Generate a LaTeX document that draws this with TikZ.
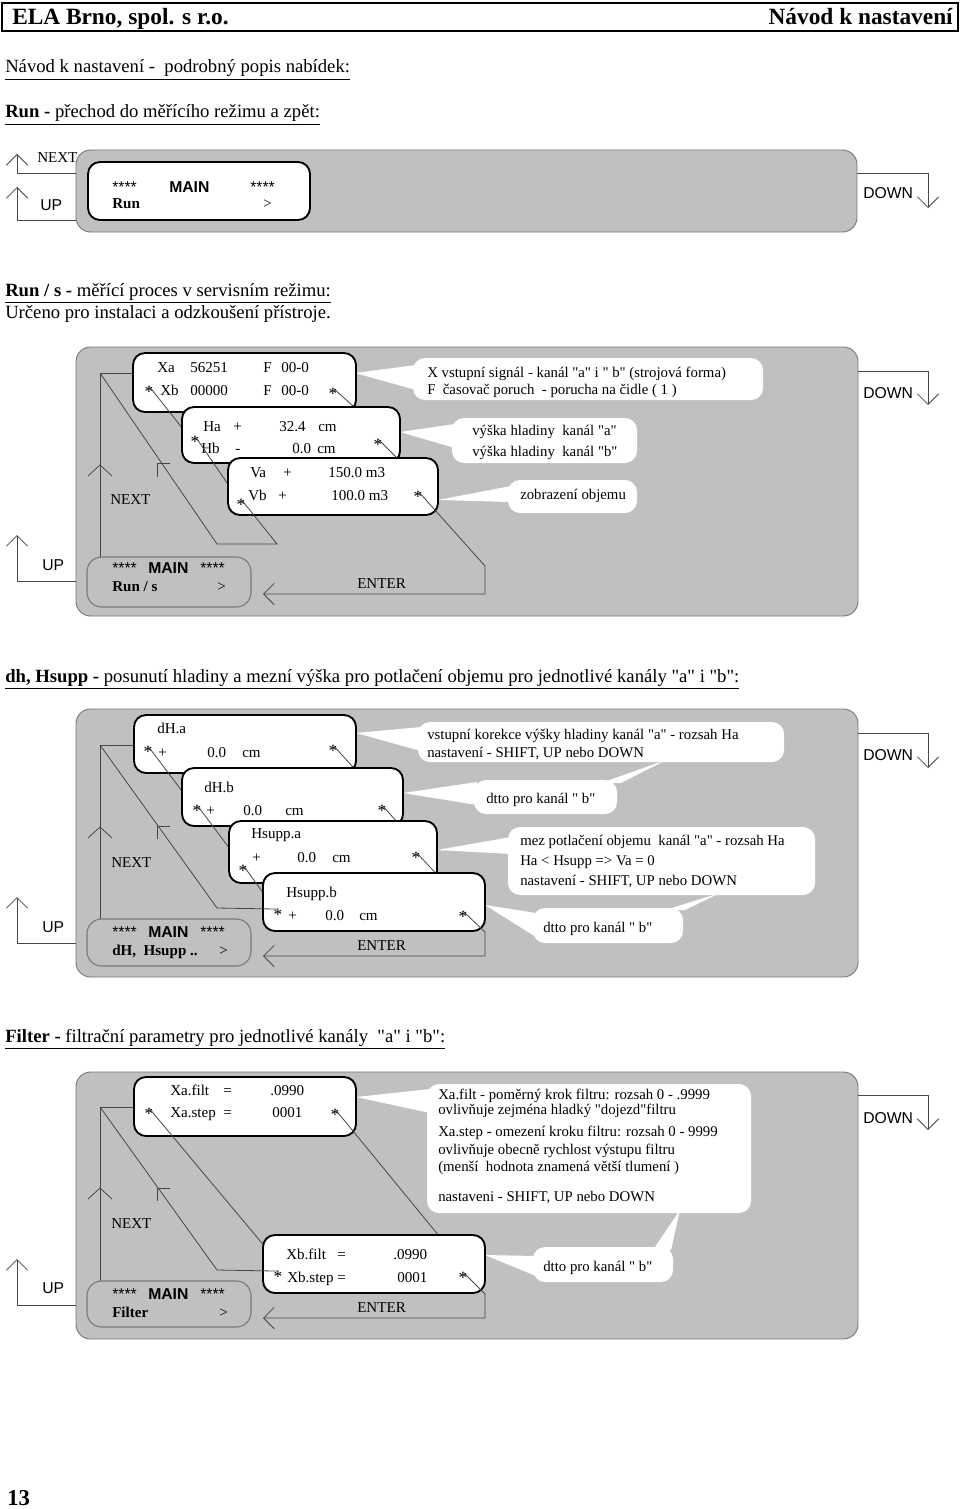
\documentclass[tikz,border=0pt]{standalone}
\usepackage{fontspec}
\setmainfont{Liberation Serif}[Ligatures=TeXOff]
\newfontfamily\arialfont{Liberation Sans}[Ligatures=TeXOff]
\usetikzlibrary{fit,arrows.meta}
\definecolor{panelgray}{RGB}{192,192,192}
\definecolor{panelline}{RGB}{120,120,120}
\definecolor{wirecol}{RGB}{70,70,70}
\newcommand\fDisp{\fontsize{11.3}{13}\selectfont}
\newcommand\fStar{\fontsize{13}{13}\selectfont}
\newcommand\fSans{\arialfont\fontsize{11.8}{14}\selectfont}
\newcommand\fCall{\fontsize{11.1}{13}\selectfont}
\newcommand\fHead{\fontsize{14}{16}\selectfont}
\tikzset{
 panel/.style={fill=panelgray, draw=panelline, line width=0.7pt, rounded corners=11pt, inner sep=0pt},
 disp/.style={fill=white, draw=black, line width=1.4pt, rounded corners=9pt, inner sep=0pt},
 mainbox/.style={fill=panelgray, draw=panelline, line width=0.8pt, rounded corners=11pt, inner sep=0pt},
 callout/.style={fill=white, rounded corners=9pt, inner sep=0pt},
 wire/.style={draw=wirecol, line width=0.6pt},
 barb/.style={-{Straight Barb[length=8pt,width=16pt]}},
 tx/.style={anchor=base west, inner sep=0pt, font=\fDisp},
 sx/.style={anchor=base west, inner sep=0pt, font=\fSans},
 cx/.style={anchor=base west, inner sep=0pt, font=\fCall},
 hx/.style={anchor=base west, inner sep=0pt, font=\fHead},
 star/.style={inner sep=0pt, font=\fStar, yshift=-4.5pt},
}
\begin{document}
\begin{tikzpicture}[x=0.75pt,y=-0.75pt]
\useasboundingbox (0,0) rectangle (960,1509);
% ---------- header ----------
\draw[line width=1.2pt] (2,3) rectangle (958,31);
\draw[line width=2pt] (2,3) -- (2,31) (958,3) -- (958,31);
\node[anchor=base west, inner sep=0pt, font=\fontsize{17.5}{20}\selectfont\bfseries] (hl) at (12,25) {ELA Brno, spol. s r.o.};
\node[anchor=base east, inner sep=0pt, font=\fontsize{17.5}{20}\selectfont\bfseries] (hr) at (953,25) {Návod k nastavení};
\node[hx] (t0) at (5,73) {\underline{Návod k nastavení -\ \ podrobný popis nabídek:}};
\node[hx] (t1) at (5,118) {\underline{\textbf{Run -} přechod do měřícího režimu a zpět:}};
% ---------- section 1 ----------
\node[panel, fit={(76,150) (857,232)}] (p1) {};
\node[disp, fit={(88,162) (310,220)}] (m1) {};
\node[sx] (m1a) at (112,192) {****};
\node[sx, font=\fSans\bfseries] (m1b) at (169,192) {MAIN};
\node[sx] (m1c) at (250,192) {****};
\node[tx] (m1d) at (112,209) {\textbf{Run}};
\node[tx] (m1e) at (263,209) {>};
\node[tx] (nx1) at (37,162) {NEXT};
\node[sx] (up1) at (40,210) {UP};
\node[sx] (dn1) at (863,198) {DOWN};
\draw[wire,barb] (76,173) -- (17,173) -- (17,154);
\draw[wire,barb] (76,220) -- (17,220) -- (17,187);
\draw[wire,barb] (857,173) -- (928,173) -- (928,208);
% ---------- section 2 ----------
\node[hx] (t2) at (5,296) {\underline{\textbf{Run / s -} měřící proces v servisním režimu:}};
\node[hx] (t3) at (5,318) {Určeno pro instalaci a odzkoušení přístroje.};
\node[panel, fit={(76,347) (858,616)}] (p2) {};
\node[sx] (dn2) at (863,398) {DOWN};
\draw[wire,barb] (858,371) -- (928,371) -- (928,405);
% callouts
\fill[white] (355,373) -- (416,365) -- (416,390) -- cycle;
\fill[white] (400,432) -- (455,424) -- (455,448) -- cycle;
\fill[white] (438,500) -- (511,486) -- (511,502) -- cycle;
\node[callout, fit={(413,358) (763,400)}] (c21) {};
\node[callout, fit={(452,418) (637,463)}] (c22) {};
\node[callout, fit={(508,480) (637,513)}] (c23) {};
\node[cx] at (427,377) {X vstupní signál - kanál "a" i " b" (strojová forma)};
\node[cx] at (427,394) {F\ \ časovač poruch\ \ - porucha na čidle ( 1 )};
\node[cx] at (472,435) {výška hladiny\ \ kanál "a"};
\node[cx] at (472,456) {výška hladiny\ \ kanál "b"};
\node[cx] at (520,499) {zobrazení objemu};
% next / up / enter wiring
\draw[wire] (100,557) -- (100,373) -- (134,373);
\draw[wire] (88,476) -- (100,465) -- (112,476);
\draw[wire] (170,463) -- (157,463) -- (157,477);
\draw[wire,barb] (17,581) -- (17,535);
\draw[wire] (76,581) -- (17,581);
\node[tx] (nx2) at (110,504) {NEXT};
\node[sx] (up2) at (42,570) {UP};
\node[tx] (en2) at (357,588) {ENTER};
% Xa box
\node[disp, fit={(133,353) (356,412)}] (bxa) {};
\node[tx] at (157,372) {Xa}; \node[tx] at (190,372) {56251};
\node[tx] at (263,372) {F}; \node[tx] at (281,372) {00-0};
\node[tx] at (160,395) {Xb}; \node[tx] at (190,395) {00000};
\node[tx] at (263,395) {F}; \node[tx] at (281,395) {00-0};
\node[star] (s2l1) at (149,386) {*};
\node[star] (s2r1) at (333,388) {*};
\draw[wire] (s2l1.north) -- (190,438);
\draw[wire] (s2r1.north) -- (362,414);
% Ha box
\node[disp, fit={(182,407) (400,463)}] (bha) {};
\node[tx] at (203,431) {Ha}; \node[tx] at (233,431) {+};
\node[tx] at (279,431) {32.4}; \node[tx] at (318,431) {cm};
\node[tx] at (201,453) {Hb}; \node[tx] at (235,453) {-};
\node[tx] at (292,453) {0.0}; \node[tx] at (317,453) {cm};
\node[star] (s2l2) at (195,436) {*};
\node[star] (s2r2) at (378,439) {*};
\draw[wire] (s2l2.north) -- (236,496);
\draw[wire] (s2r2.north) -- (404,465);
% Va box
\node[disp, fit={(228,458) (438,515)}] (bva) {};
\node[tx] at (250,477) {Va}; \node[tx] at (283,477) {+};
\node[tx] at (328,477) {150.0 m3};
\node[tx] at (248,500) {Vb}; \node[tx] at (278,500) {+};
\node[tx] at (331,500) {100.0 m3};
\node[star] (s2l3) at (241,499) {*};
\node[star] (s2r3) at (418,491) {*};
\draw[wire] (s2l3.north) -- (277,544) -- (217,544) -- (100,373);
\draw[wire,barb] (s2r3.north) -- (485,566) -- (485,594) -- (263,594);
% main box
\node[mainbox, fit={(87,557) (251,607)}] (m2) {};
\node[sx] at (112,573) {****};
\node[sx, font=\fSans\bfseries] at (148,573) {MAIN};
\node[sx] at (200,573) {****};
\node[tx] at (112,591) {\textbf{Run / s}};
\node[tx] at (217,591) {>};
% ---------- section 3 ----------
\node[hx] (t4) at (5,682) {\underline{\textbf{dh, Hsupp -} posunutí hladiny a mezní výška pro potlačení objemu pro jednotlivé kanály "a" i "b":}};
\node[panel, fit={(76,709) (858,977)}] (p3) {};
\node[sx] (dn3) at (863,760) {DOWN};
\draw[wire,barb] (858,733) -- (928,733) -- (928,768);
\fill[white] (356,733) -- (421,727) -- (421,751) -- cycle;
\fill[white] (403,793) -- (477,782) -- (477,805) -- cycle;
\fill[white] (666,760) -- (601,783) -- (621,783) -- cycle;
\fill[white] (437,850) -- (511,837) -- (511,854) -- cycle;
\fill[white] (485,905) -- (536,913) -- (536,937) -- cycle;
\fill[white] (720,893) -- (665,910) -- (685,910) -- cycle;
\node[callout, fit={(418,722) (784,762)}] (c31) {};
\node[callout, fit={(474,780) (617,814)}] (c32) {};
\node[callout, fit={(508,827) (815,895)}] (c33) {};
\node[callout, fit={(533,908) (683,943)}] (c34) {};
\node[cx] at (427,739) {vstupní korekce výšky hladiny kanál "a" - rozsah Ha};
\node[cx] at (427,757) {nastavení - SHIFT, UP nebo DOWN};
\node[cx] at (486,803) {dtto pro kanál " b"};
\node[cx] at (520,845) {mez potlačení objemu\ \ kanál "a" - rozsah Ha};
\node[cx] at (520,865) {Ha < Hsupp => Va = 0};
\node[cx] at (520,885) {nastavení - SHIFT, UP nebo DOWN};
\node[cx] at (543,932) {dtto pro kanál " b"};
\draw[wire] (100,919) -- (100,745) -- (134,745);
\draw[wire] (88,838) -- (100,827) -- (112,838);
\draw[wire] (170,826) -- (157,826) -- (157,839);
\draw[wire,barb] (17,943) -- (17,897);
\draw[wire] (76,943) -- (17,943);
\node[tx] (nx3) at (111,867) {NEXT};
\node[sx] (up3) at (42,932) {UP};
\node[tx] (en3) at (357,950) {ENTER};
% dH.a
\node[disp, fit={(134,715) (356,773)}] (bda) {};
\node[tx] at (157,733) {dH.a};
\node[tx] at (158,757) {+}; \node[tx] at (207,757) {0.0}; \node[tx] at (242,757) {cm};
\node[star] (s3l1) at (148,746) {*};
\node[star] (s3r1) at (333,745) {*};
\draw[wire] (s3l1.north) -- (188,799);
\draw[wire] (s3r1.north) -- (362,777);
% dH.b
\node[disp, fit={(182,768) (403,826)}] (bdb) {};
\node[tx] at (204,792) {dH.b};
\node[tx] at (206,815) {+}; \node[tx] at (243,815) {0.0}; \node[tx] at (285,815) {cm};
\node[star] (s3l2) at (197,805) {*};
\node[star] (s3r2) at (382,805) {*};
\draw[wire] (s3l2.north) -- (236,857);
\draw[wire] (s3r2.north) -- (406,832);
% Hsupp.a
\node[disp, fit={(229,821) (437,883)}] (bsa) {};
\node[tx] at (251,838) {Hsupp.a};
\node[tx] at (252,862) {+}; \node[tx] at (297,862) {0.0}; \node[tx] at (332,862) {cm};
\node[star] (s3l3) at (243,865) {*};
\node[star] (s3r3) at (416,852) {*};
\draw[wire] (s3l3.north) -- (269,901);
\draw[wire] (s3r3.north) -- (443,881);
% Hsupp.b
\node[disp, fit={(263,873) (485,931)}] (bsb) {};
\node[tx] at (286,897) {Hsupp.b};
\node[tx] at (288,920) {+}; \node[tx] at (325,920) {0.0}; \node[tx] at (359,920) {cm};
\node[star] (s3l4) at (278,909) {*};
\node[star] (s3r4) at (463,911) {*};
\draw[wire] (s3l4.north) -- (217,908) -- (100,745);
\draw[wire,barb] (s3r4.north) -- (485,932) -- (485,956) -- (263,956);
\node[mainbox, fit={(87,919) (251,966)}] (m3) {};
\node[sx] at (112,937) {****};
\node[sx, font=\fSans\bfseries] at (148,937) {MAIN};
\node[sx] at (200,937) {****};
\node[tx] at (112,955) {\textbf{dH,\ \ Hsupp ..}};
\node[tx] at (219,955) {>};
% ---------- section 4 ----------
\node[hx] (t5) at (5,1042) {\underline{\textbf{Filter -} filtrační parametry pro jednotlivé kanály\ \ "a" i "b":}};
\node[panel, fit={(76,1072) (858,1339)}] (p4) {};
\node[sx] (dn4) at (863,1123) {DOWN};
\draw[wire,barb] (858,1095) -- (928,1095) -- (928,1130);
\fill[white] (356,1097) -- (430,1089) -- (430,1113) -- cycle;
\fill[white] (485,1255) -- (536,1256) -- (536,1276) -- cycle;
\fill[white] (680,1210) -- (653,1250) -- (671,1250) -- cycle;
\node[callout, fit={(427,1084) (751,1213)}] (c41) {};
\node[callout, fit={(533,1247) (673,1282)}] (c42) {};
\node[cx] at (438,1099) {Xa.filt - poměrný krok filtru: rozsah 0 - .9999};
\node[cx] at (438,1114) {ovlivňuje zejména hladký "dojezd"filtru};
\node[cx] at (438,1136) {Xa.step - omezení kroku filtru: rozsah 0 - 9999};
\node[cx] at (438,1154) {ovlivňuje obecně rychlost výstupu filtru};
\node[cx] at (438,1171) {(menší\ \ hodnota znamená větší tlumení )};
\node[cx] at (438,1201) {nastaveni - SHIFT, UP nebo DOWN};
\node[cx] at (543,1271) {dtto pro kanál " b"};
\draw[wire] (100,1281) -- (100,1107) -- (134,1107);
\draw[wire] (88,1199) -- (100,1188) -- (112,1199);
\draw[wire] (170,1188) -- (157,1188) -- (157,1201);
\draw[wire,barb] (17,1305) -- (17,1259);
\draw[wire] (76,1305) -- (17,1305);
\node[tx] (nx4) at (111,1228) {NEXT};
\node[sx] (up4) at (42,1293) {UP};
\node[tx] (en4) at (357,1312) {ENTER};
\node[disp, fit={(134,1077) (356,1136)}] (bfa) {};
\node[tx] at (170,1095) {Xa.filt}; \node[tx] at (223,1095) {=}; \node[tx] at (270,1095) {.0990};
\node[tx] at (170,1117) {Xa.step}; \node[tx] at (223,1117) {=}; \node[tx] at (272,1117) {0001};
\node[star] (s4l1) at (149,1108) {*};
\node[star] (s4r1) at (335,1109) {*};
\draw[wire] (s4l1.north) -- (271,1254);
\draw[wire] (s4r1.north) -- (444,1242);
\node[disp, fit={(263,1235) (485,1293)}] (bfb) {};
\node[tx] at (286,1259) {Xb.filt}; \node[tx] at (337,1259) {=}; \node[tx] at (393,1259) {.0990};
\node[tx] at (287,1282) {Xb.step =}; \node[tx] at (397,1282) {0001};
\node[star] (s4l2) at (278,1271) {*};
\node[star] (s4r2) at (463,1272) {*};
\draw[wire] (s4l2.north) -- (217,1270) -- (100,1107);
\draw[wire,barb] (s4r2.north) -- (485,1294) -- (485,1318) -- (263,1318);
\node[mainbox, fit={(87,1281) (251,1327)}] (m4) {};
\node[sx] at (112,1299) {****};
\node[sx, font=\fSans\bfseries] at (148,1299) {MAIN};
\node[sx] at (200,1299) {****};
\node[tx] at (112,1317) {\textbf{Filter}};
\node[tx] at (219,1317) {>};
% page number
\node[anchor=base west, inner sep=0pt, font=\fontsize{17}{20}\selectfont\bfseries] (pg) at (7,1505) {13};
\end{tikzpicture}
\end{document}
